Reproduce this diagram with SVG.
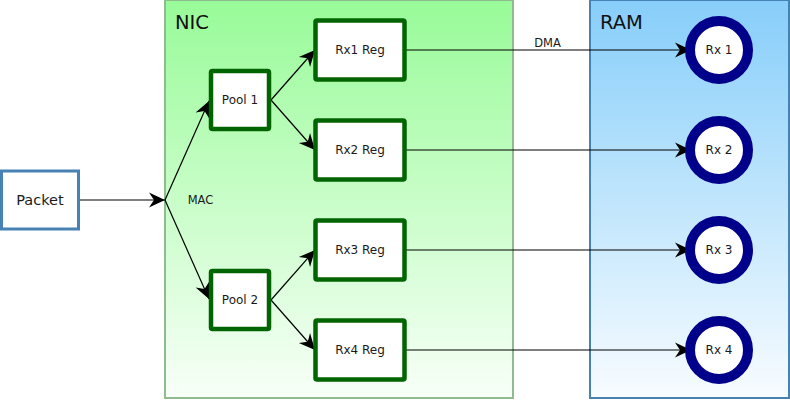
<svg xmlns="http://www.w3.org/2000/svg" width="790" height="400" viewBox="0 0 790 400">
<style>
text{font-family:"DejaVu Sans","Liberation Sans",sans-serif;fill:#1a1a1a}
.reg{fill:#fff;stroke:#006400;stroke-width:4.5}
.ram{fill:#fff;stroke:#00008b;stroke-width:10}
.edge{stroke:#000;stroke-width:1.2;fill:none;marker-end:url(#ah)}
.lbl{font-size:12px;text-anchor:middle}
.elbl{font-size:11.5px;text-anchor:middle}
.title{font-size:19.5px;fill:#111}
</style>
<defs>
<linearGradient id="gNic" x1="0" y1="0" x2="0" y2="1">
<stop offset="0" stop-color="#98fb98"/>
<stop offset="1" stop-color="#f8fff8"/>
</linearGradient>
<linearGradient id="gRam" x1="0" y1="0" x2="0" y2="1">
<stop offset="0" stop-color="#87cefa"/>
<stop offset="1" stop-color="#f8fcff"/>
</linearGradient>
<marker id="ah" markerUnits="userSpaceOnUse" markerWidth="18" markerHeight="18" viewBox="-17 -9 18 18" refX="0" refY="0" orient="auto">
<path d="M0,0 L-16,-7.5 L-11,0 L-16,7.5 Z" fill="#000"/>
</marker>
</defs>
<g id="nic">
<rect x="165" y="0" width="348" height="398" fill="url(#gNic)" stroke="#8fbc8f" stroke-width="2"/>
<text x="175" y="29" class="title">NIC</text>
</g>
<g id="ram">
<rect x="590" y="0" width="199" height="398" fill="url(#gRam)" stroke="#4682b4" stroke-width="2"/>
<text x="600" y="29" class="title">RAM</text>
</g>
<g id="connectors">
<line class="edge" x1="79" y1="200" x2="165" y2="200"/>
<line class="edge" x1="165" y1="200" x2="209" y2="101"/>
<line class="edge" x1="165" y1="200" x2="209" y2="299"/>
<line class="edge" x1="271" y1="100" x2="315" y2="50"/>
<line class="edge" x1="271" y1="100" x2="315" y2="150"/>
<line class="edge" x1="271" y1="300" x2="315" y2="250"/>
<line class="edge" x1="271" y1="300" x2="315" y2="350"/>
<line class="edge" x1="406" y1="50" x2="691" y2="50"/>
<line class="edge" x1="406" y1="150" x2="691" y2="150"/>
<line class="edge" x1="406" y1="250" x2="691" y2="250"/>
<line class="edge" x1="406" y1="350" x2="691" y2="350"/>
<text x="200.5" y="204" class="elbl">MAC</text>
<text x="547.5" y="47" class="elbl">DMA</text>
</g>
<g id="packet">
<rect x="1.5" y="171" width="77" height="58" fill="#fff" stroke="#4682b4" stroke-width="3"/>
<text x="40" y="205" font-size="14.5" text-anchor="middle">Packet</text>
</g>
<g id="pool1">
<rect x="211" y="71" width="58" height="58" rx="1.5" class="reg"/>
<text x="240" y="104" class="lbl">Pool 1</text>
</g>
<g id="pool2">
<rect x="211" y="271" width="58" height="58" rx="1.5" class="reg"/>
<text x="240" y="304" class="lbl">Pool 2</text>
</g>
<g id="rx1reg">
<rect x="315.5" y="20.5" width="89" height="59" rx="1.5" class="reg"/>
<text x="360" y="54" class="lbl">Rx1 Reg</text>
</g>
<g id="rx2reg">
<rect x="315.5" y="120.5" width="89" height="59" rx="1.5" class="reg"/>
<text x="360" y="154" class="lbl">Rx2 Reg</text>
</g>
<g id="rx3reg">
<rect x="315.5" y="220.5" width="89" height="59" rx="1.5" class="reg"/>
<text x="360" y="254" class="lbl">Rx3 Reg</text>
</g>
<g id="rx4reg">
<rect x="315.5" y="320.5" width="89" height="59" rx="1.5" class="reg"/>
<text x="360" y="354" class="lbl">Rx4 Reg</text>
</g>
<g id="rx1">
<circle cx="719" cy="50" r="29" class="ram"/>
<text x="719" y="54" class="lbl">Rx 1</text>
</g>
<g id="rx2">
<circle cx="719" cy="150" r="29" class="ram"/>
<text x="719" y="154" class="lbl">Rx 2</text>
</g>
<g id="rx3">
<circle cx="719" cy="250" r="29" class="ram"/>
<text x="719" y="254" class="lbl">Rx 3</text>
</g>
<g id="rx4">
<circle cx="719" cy="350" r="29" class="ram"/>
<text x="719" y="354" class="lbl">Rx 4</text>
</g>
</svg>
